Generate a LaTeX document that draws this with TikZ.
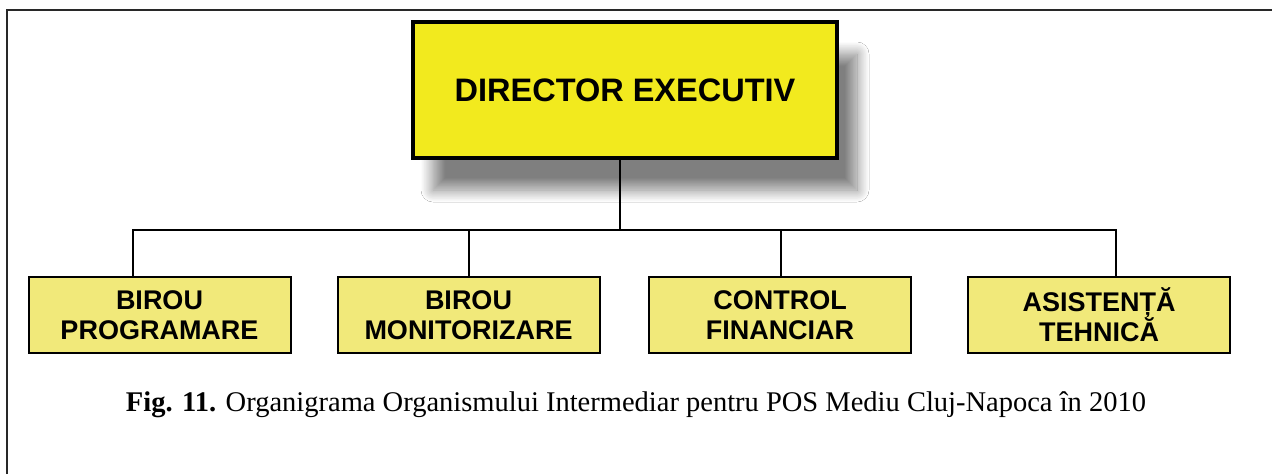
\documentclass[tikz,border=0pt]{standalone}
\usepackage{fontspec}
\setmainfont{Liberation Serif}
\newfontfamily\arialfont{Liberation Sans}
\usetikzlibrary{shadows.blur}
\definecolor{diryellow}{RGB}{242,234,30}
\definecolor{boxyellow}{RGB}{241,233,122}
\definecolor{framegray}{RGB}{40,40,40}
\tikzset{
  dirbox/.style={draw=black, line width=3.5pt, fill=diryellow, minimum width=424pt, minimum height=136pt,
    font=\arialfont\bfseries\fontsize{32.5}{36}\selectfont, inner sep=0pt,
    blur shadow={shadow xshift=20pt, shadow yshift=-32pt, shadow opacity=50, shadow blur steps=20, shadow blur radius=12pt}},
  unitbox/.style={draw=black, line width=2pt, fill=boxyellow, minimum width=262pt, minimum height=76pt,
    font=\arialfont\bfseries\fontsize{27}{30}\selectfont, align=center, inner sep=0pt},
  conn/.style={line width=2pt, black},
}
\begin{document}
\begin{tikzpicture}[x=1pt,y=-1pt]
\useasboundingbox (0,0) rectangle (1272,474);
\fill[white] (0,0) rectangle (1272,474);
\draw[framegray, line width=2.5pt] (7,474) -- (7,10) -- (1272,10);
\node[dirbox] (dir) at (625,90) {DIRECTOR EXECUTIV};
\node[unitbox] (b1) at (159.5,315) {BIROU\\PROGRAMARE};
\node[unitbox] (b2) at (468.5,315) {BIROU\\MONITORIZARE};
\node[unitbox] (b3) at (780,315) {CONTROL\\FINANCIAR};
\node[unitbox] (b4) at (1099,315) {ASISTENȚĂ\\TEHNICĂ};
\coordinate (j) at (620,230);
\draw[conn] (dir.south -| j) -- (j);
\draw[conn] (b1.north -| 133,0) |- (j) -| (b4.north -| 1116,0);
\draw[conn] (b2.north -| 469,0) -- (469,230);
\draw[conn] (b3.north -| 781,0) -- (781,230);
\node[font=\fontsize{28.5}{32}\selectfont] (cap) at (636,405) {\textbf{Fig. 11.} Organigrama Organismului Intermediar pentru POS Mediu Cluj-Napoca în 2010};
\end{tikzpicture}
\end{document}
